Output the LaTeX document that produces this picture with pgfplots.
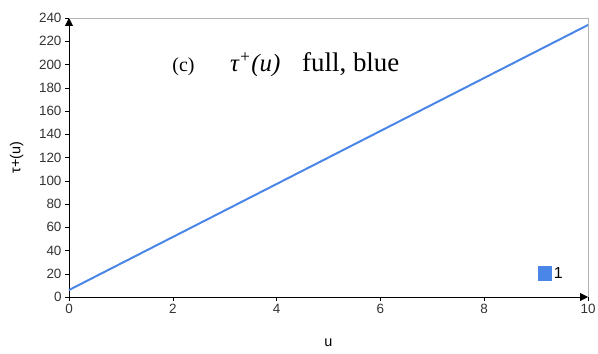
\documentclass[border=0pt]{standalone}
\usepackage{pgfplots}
\pgfplotsset{compat=1.18}
\usepackage{fontspec}
\setmainfont{Liberation Sans}
\newfontfamily\serifit{Liberation Serif}
\usetikzlibrary{arrows.meta}

\definecolor{lineblue}{HTML}{4A86E8}
\definecolor{framegray}{HTML}{B4B4B4}
\definecolor{ticktext}{HTML}{333333}

\begin{document}
\begin{tikzpicture}
\useasboundingbox (-69bp,-57bp) rectangle (529bp,297bp);
\begin{axis}[
  at={(0,0)}, anchor=south west,
  scale only axis, width=519bp, height=279bp,
  xmin=0, xmax=10, ymin=0, ymax=240,
  axis lines=left,
  axis line style={black, thick, -{Triangle[length=8bp,width=8bp]}},
  xtick={0,2,...,10}, ytick={0,20,...,240},
  tick align=outside, major tick length=4bp,
  tick style={black, thin},
  /pgf/number format/assume math mode=true,
  ticklabel style={font=\fontsize{13.5}{15}\selectfont, text=ticktext},
  xlabel={u}, ylabel={τ+(u)},
  label style={font=\fontsize{14.5}{16}\selectfont},
  xlabel style={at={(axis description cs:0.5,0)}, anchor=north, yshift=-38bp},
  ylabel style={at={(axis description cs:0,0.5)}, anchor=south, yshift=42bp},
  legend style={draw=none, fill=none, font=\fontsize{16}{18}\selectfont,
                at={(axis cs:9.03,20)}, anchor=west, inner sep=0pt},
  legend image code/.code={\fill[lineblue] (0bp,-6bp) rectangle (12bp,7bp);},
  clip=false,
]
\draw[framegray, thick] (axis cs:0,240) -- (axis cs:10,240) -- (axis cs:10,0);
\addplot[lineblue, line width=2pt] coordinates {(0,6) (10,234)};
\addlegendentry{1}
\node[anchor=base west, inner sep=0pt] at (axis cs:1.99,194)
  {\serifit\fontsize{20}{22}\selectfont (c)};
\node[anchor=base west, inner sep=0pt] at (axis cs:3.10,194)
  {\serifit\fontsize{25}{28}\selectfont\itshape τ\textsuperscript{+}(u)};
\node[anchor=base west, inner sep=0pt] at (axis cs:4.49,194)
  {\serifit\fontsize{27}{30}\selectfont full, blue};
\end{axis}
\end{tikzpicture}
\end{document}
